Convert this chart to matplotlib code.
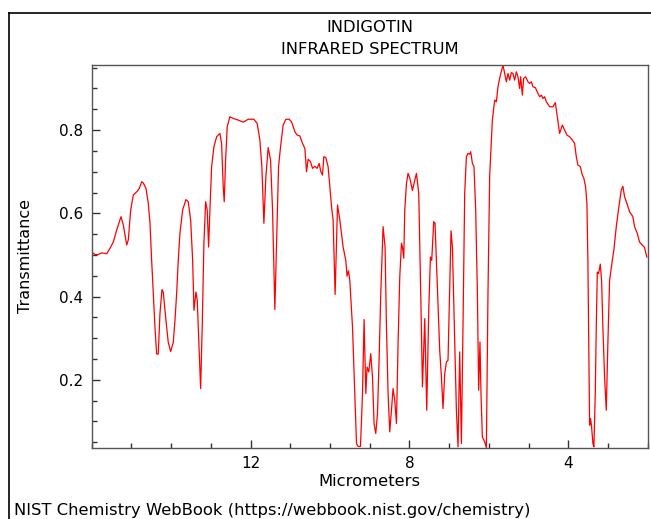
#!/usr/bin/env python3
import numpy as np
import matplotlib.pyplot as plt
from matplotlib.lines import Line2D
from matplotlib.ticker import MultipleLocator

# wavelength (micrometers) and transmittance
wl = [16.00, 15.917, 15.834, 15.748, 15.623, 15.540, 15.457, 15.371, 15.263, 15.205,
      15.119, 15.079, 15.019, 14.953, 14.853, 14.802, 14.742, 14.702, 14.634, 14.576,
      14.533, 14.491, 14.450, 14.408, 14.365, 14.325, 14.282, 14.231, 14.199, 14.131,
      14.073, 14.013, 13.947, 13.904, 13.862, 13.821, 13.779, 13.711, 13.628, 13.570,
      13.509, 13.459, 13.426, 13.376, 13.343, 13.301, 13.258, 13.218, 13.175, 13.132,
      13.092, 13.057, 13.024, 12.981, 12.923, 12.855, 12.772, 12.730, 12.689, 12.664,
      12.629, 12.589, 12.521, 12.438, 12.312, 12.186, 12.060, 11.917, 11.834, 11.766,
      11.716, 11.665, 11.615, 11.557, 11.497, 11.447, 11.389, 11.346, 11.296, 11.245,
      11.180, 11.112, 11.029, 10.969, 10.885, 10.828, 10.760, 10.692, 10.634, 10.591,
      10.551, 10.491, 10.440, 10.382, 10.325, 10.274, 10.231, 10.189, 10.156, 10.106,
      10.048, 9.962, 9.922, 9.872, 9.811, 9.753, 9.670, 9.603, 9.570, 9.535,
      9.502, 9.434, 9.376, 9.333, 9.293, 9.233, 9.182, 9.142, 9.099, 9.067,
      9.024, 8.974, 8.931, 8.891, 8.848, 8.805, 8.765, 8.722, 8.664, 8.614,
      8.579, 8.538, 8.496, 8.453, 8.413, 8.370, 8.327, 8.287, 8.244, 8.201,
      8.176, 8.143, 8.118, 8.075, 8.035, 7.992, 7.925, 7.824, 7.766, 7.716,
      7.673, 7.615, 7.565, 7.514, 7.472, 7.439, 7.389, 7.356, 7.306, 7.238,
      7.195, 7.155, 7.112, 7.069, 7.029, 6.986, 6.953, 6.918, 6.868, 6.818,
      6.777, 6.735, 6.692, 6.652, 6.609, 6.566, 6.526, 6.483, 6.458, 6.415,
      6.375, 6.332, 6.289, 6.257, 6.224, 6.199, 6.164, 6.106, 6.063, 6.023,
      5.980, 5.912, 5.854, 5.811, 5.771, 5.711, 5.645, 5.603, 5.560, 5.519,
      5.477, 5.434, 5.394, 5.351, 5.308, 5.268, 5.225, 5.200, 5.157, 5.125,
      5.074, 5.016, 4.974, 4.931, 4.891, 4.830, 4.765, 4.722, 4.679, 4.639,
      4.596, 4.553, 4.470, 4.387, 4.327, 4.277, 4.219, 4.151, 4.093, 4.035,
      3.967, 3.899, 3.842, 3.799, 3.758, 3.698, 3.648, 3.608, 3.565, 3.532,
      3.507, 3.482, 3.464, 3.439, 3.414, 3.381, 3.356, 3.321, 3.296, 3.270,
      3.238, 3.195, 3.162, 3.130, 3.087, 3.044, 3.004, 2.961, 2.903, 2.853,
      2.792, 2.727, 2.667, 2.626, 2.584, 2.526, 2.458, 2.375, 2.332, 2.264,
      2.206, 2.138, 2.081, 2.023]

trans = [0.507, 0.501, 0.501, 0.505, 0.503, 0.516, 0.531, 0.560, 0.592, 0.572,
         0.524, 0.536, 0.608, 0.644, 0.653, 0.660, 0.676, 0.673, 0.660, 0.624,
         0.576, 0.487, 0.407, 0.327, 0.262, 0.262, 0.359, 0.417, 0.411, 0.343,
         0.290, 0.268, 0.290, 0.343, 0.407, 0.487, 0.552, 0.608, 0.633, 0.628,
         0.584, 0.487, 0.367, 0.411, 0.391, 0.287, 0.179, 0.327, 0.528, 0.628,
         0.608, 0.519, 0.608, 0.712, 0.760, 0.784, 0.792, 0.768, 0.664, 0.628,
         0.728, 0.808, 0.832, 0.828, 0.824, 0.819, 0.826, 0.826, 0.816, 0.776,
         0.712, 0.576, 0.688, 0.758, 0.728, 0.608, 0.369, 0.528, 0.712, 0.760,
         0.812, 0.826, 0.826, 0.820, 0.796, 0.788, 0.786, 0.768, 0.756, 0.700,
         0.730, 0.724, 0.708, 0.713, 0.708, 0.720, 0.700, 0.692, 0.736, 0.734,
         0.712, 0.616, 0.584, 0.405, 0.620, 0.584, 0.519, 0.487, 0.449, 0.462,
         0.439, 0.327, 0.167, 0.047, 0.040, 0.040, 0.168, 0.345, 0.167, 0.231,
         0.219, 0.263, 0.207, 0.095, 0.071, 0.119, 0.247, 0.407, 0.568, 0.519,
         0.327, 0.167, 0.075, 0.127, 0.179, 0.151, 0.095, 0.287, 0.447, 0.528,
         0.519, 0.492, 0.608, 0.672, 0.696, 0.685, 0.655, 0.696, 0.648, 0.407,
         0.183, 0.347, 0.127, 0.367, 0.495, 0.487, 0.580, 0.576, 0.447, 0.271,
         0.207, 0.131, 0.215, 0.243, 0.247, 0.423, 0.558, 0.519, 0.327, 0.127,
         0.039, 0.267, 0.047, 0.327, 0.648, 0.736, 0.744, 0.742, 0.748, 0.720,
         0.712, 0.608, 0.407, 0.175, 0.291, 0.167, 0.063, 0.051, 0.037, 0.407,
         0.690, 0.824, 0.872, 0.868, 0.904, 0.932, 0.956, 0.936, 0.916, 0.936,
         0.920, 0.938, 0.936, 0.920, 0.940, 0.928, 0.900, 0.928, 0.884, 0.924,
         0.928, 0.916, 0.912, 0.916, 0.904, 0.902, 0.888, 0.880, 0.884, 0.876,
         0.880, 0.868, 0.856, 0.856, 0.866, 0.832, 0.792, 0.812, 0.800, 0.788,
         0.784, 0.776, 0.768, 0.736, 0.716, 0.712, 0.692, 0.684, 0.664, 0.624,
         0.487, 0.247, 0.091, 0.107, 0.087, 0.047, 0.039, 0.167, 0.327, 0.459,
         0.455, 0.478, 0.439, 0.327, 0.207, 0.127, 0.287, 0.439, 0.480, 0.512,
         0.568, 0.616, 0.656, 0.665, 0.640, 0.624, 0.604, 0.592, 0.568, 0.552,
         0.531, 0.524, 0.518, 0.495]

title_lines = ["INDIGOTIN", "INFRARED SPECTRUM"]
footer = "NIST Chemistry WebBook (https://webbook.nist.gov/chemistry)"

# ---------------------------
# Plot
# ---------------------------
fig = plt.figure(figsize=(6.51, 5.19), dpi=100)
ax = fig.add_axes([0.1409, 0.1374, 0.8541, 0.7379])

ax.plot(wl, trans, color="red", linewidth=0.9)

ax.set_xlim(16.0, 2.0)
ax.set_ylim(0.037, 0.957)

ax.xaxis.set_major_locator(MultipleLocator(4))
ax.xaxis.set_minor_locator(MultipleLocator(1))
ax.yaxis.set_major_locator(MultipleLocator(0.2))
ax.yaxis.set_minor_locator(MultipleLocator(0.05))
ax.tick_params(which="both", direction="in", top=False, right=False,
               labelsize=11, color="#333333")
ax.tick_params(which="major", length=6, width=1, pad=6)
ax.tick_params(which="minor", length=3.5, width=1)
ax.set_yticks([0.2, 0.4, 0.6, 0.8])
ax.set_yticklabels(["0.2", "0.4", "0.6", "0.8"])
ax.set_xticks([12, 8, 4])
ax.set_xticklabels(["12", "8", "4"])

for sp in ax.spines.values():
    sp.set_color("#555555")
    sp.set_linewidth(1.0)

ax.set_xlabel("Micrometers", fontsize=11.8, labelpad=2)
ax.set_ylabel("Transmittance", fontsize=11.5, labelpad=19)

fig.text(0.568, 1 - 27 / 519, title_lines[0], ha="center", va="center", fontsize=11.8)
fig.text(0.568, 1 - 50 / 519, title_lines[1], ha="center", va="center", fontsize=11.8)
fig.text(14 / 651, 1 - 511 / 519, footer, ha="left", va="center", fontsize=11.75)

# figure frame (left and top edges visible)
fx = 8.5 / 651
fy = 1 - 12.5 / 519
fig.add_artist(Line2D([fx, fx], [0, fy], transform=fig.transFigure, color="black", linewidth=1.2))
fig.add_artist(Line2D([fx, 1.0], [fy, fy], transform=fig.transFigure, color="black", linewidth=1.2))

plt.savefig("out.png", dpi=100)
